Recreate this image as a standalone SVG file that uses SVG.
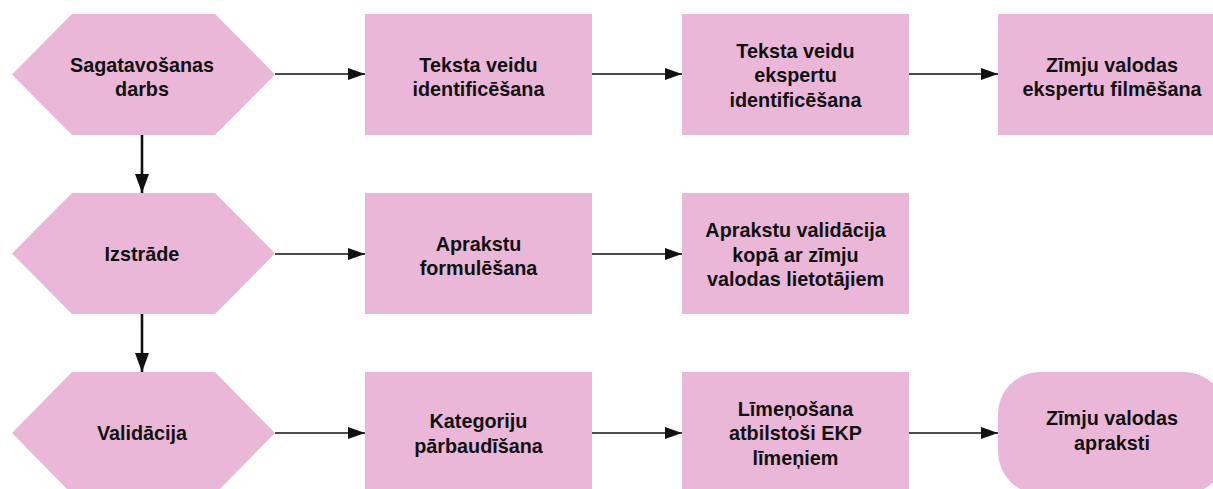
<svg xmlns="http://www.w3.org/2000/svg" width="1213" height="489" viewBox="0 0 1213 489">
<style>
.n{fill:#ebb7d8;}
.t{font-family:"Liberation Sans",Arial,sans-serif;font-weight:700;font-size:19.8px;fill:#111;text-anchor:middle;}
.h{stroke:#111;stroke-width:1.6;fill:none;marker-end:url(#ah);}
.v{stroke:#111;stroke-width:2.6;fill:none;marker-end:url(#av);}
</style>
<defs>
<marker id="ah" markerUnits="userSpaceOnUse" viewBox="0 0 17 12" refX="17" refY="6" markerWidth="17" markerHeight="12" orient="auto"><path d="M0,0L17,6L0,12z" fill="#111"/></marker>
<marker id="av" markerUnits="userSpaceOnUse" viewBox="0 0 19 14" refX="19" refY="7" markerWidth="19" markerHeight="14" orient="auto"><path d="M0,0L19,7L0,14z" fill="#111"/></marker>
</defs>
<rect width="1213" height="489" fill="#fff"/>
<g id="connectors">
<line class="h" x1="275" y1="74" x2="365" y2="74"/>
<line class="h" x1="592" y1="74" x2="682" y2="74"/>
<line class="h" x1="909" y1="74" x2="998" y2="74"/>
<line class="h" x1="275" y1="254" x2="365" y2="254"/>
<line class="h" x1="592" y1="254" x2="682" y2="254"/>
<line class="h" x1="275" y1="433" x2="365" y2="433"/>
<line class="h" x1="592" y1="433" x2="682" y2="433"/>
<line class="h" x1="909" y1="433" x2="998" y2="433"/>
<line class="v" x1="142" y1="135" x2="142" y2="193"/>
<line class="v" x1="142" y1="314" x2="142" y2="372"/>
</g>
<g id="sagatavosanas">
<polygon class="n" points="12,74.5 72,14 215,14 275,74.5 215,135 72,135"/>
<text class="t" x="142" y="72">Sagatavošanas</text>
<text class="t" x="142" y="95.5">darbs</text>
</g>
<g id="izstrade">
<polygon class="n" points="12,253.5 72,193 215,193 275,253.5 215,314 72,314"/>
<text class="t" x="142" y="261">Izstrāde</text>
</g>
<g id="validacija">
<polygon class="n" points="12,433 72,372 215,372 275,433 215,494 72,494"/>
<text class="t" x="142" y="440">Validācija</text>
</g>
<g id="teksta-veidu">
<rect class="n" x="365" y="14" width="227" height="121"/>
<text class="t" x="478.5" y="72">Teksta veidu</text>
<text class="t" x="478.5" y="96">identificēšana</text>
</g>
<g id="teksta-ekspertu">
<rect class="n" x="682" y="14" width="227" height="121"/>
<text class="t" x="795.5" y="58">Teksta veidu</text>
<text class="t" x="795.5" y="82">ekspertu</text>
<text class="t" x="795.5" y="107">identificēšana</text>
</g>
<g id="filmesana">
<rect class="n" x="998" y="14" width="228" height="121"/>
<text class="t" x="1112" y="72">Zīmju valodas</text>
<text class="t" x="1112" y="96">ekspertu filmēšana</text>
</g>
<g id="apraksti-formulesana">
<rect class="n" x="365" y="193" width="227" height="121"/>
<text class="t" x="478.5" y="251">Aprakstu</text>
<text class="t" x="478.5" y="275">formulēšana</text>
</g>
<g id="apraksti-validacija">
<rect class="n" x="682" y="193" width="227" height="121"/>
<text class="t" x="795.5" y="237">Aprakstu validācija</text>
<text class="t" x="795.5" y="262">kopā ar zīmju</text>
<text class="t" x="795.5" y="286">valodas lietotājiem</text>
</g>
<g id="kategoriju">
<rect class="n" x="365" y="372" width="227" height="122"/>
<text class="t" x="478.5" y="428">Kategoriju</text>
<text class="t" x="478.5" y="453">pārbaudīšana</text>
</g>
<g id="limenosana">
<rect class="n" x="682" y="372" width="227" height="122"/>
<text class="t" x="795.5" y="416">Līmeņošana</text>
<text class="t" x="795.5" y="440">atbilstoši EKP</text>
<text class="t" x="795.5" y="465">līmeņiem</text>
</g>
<g id="zimju-apraksti">
<rect class="n" x="998" y="372" width="228" height="122" rx="42" ry="42"/>
<text class="t" x="1112" y="425">Zīmju valodas</text>
<text class="t" x="1112" y="450">apraksti</text>
</g>
</svg>
